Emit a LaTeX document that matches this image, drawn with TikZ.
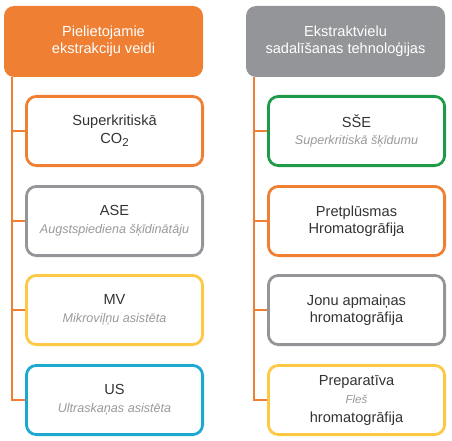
\documentclass[tikz,border=0pt]{standalone}
\usepackage{fontspec}
\setmainfont{Liberation Sans}
\definecolor{cor}{HTML}{EE7F33}
\definecolor{cgr}{HTML}{939598}
\definecolor{cgn}{HTML}{1F9A48}
\definecolor{cye}{HTML}{FDC843}
\definecolor{cbl}{HTML}{1BA9CF}
\definecolor{ctx}{HTML}{333333}
\definecolor{csub}{HTML}{9A9A9A}
\newcommand{\subt}[1]{{\fontsize{12.6}{15}\selectfont\itshape\color{csub}#1}}
\newcommand{\lowtwo}{\raisebox{-0.4ex}{\fontsize{11.5}{11.5}\selectfont 2}}
\tikzset{
  hdr/.style={rounded corners=10pt, minimum width=199pt, minimum height=71pt, inner sep=0pt,
    align=center, text=white, font=\fontsize{14.6}{17}\selectfont},
  itembox/.style={draw=#1, line width=2.8pt, rounded corners=10pt, fill=white,
    minimum width=176.2pt, minimum height=69.2pt, inner sep=0pt, align=center,
    text=ctx, font=\fontsize{14.6}{17.5}\selectfont},
  conn/.style={draw=cor, line width=2.8pt}
}
\begin{document}
\begin{tikzpicture}[x=1pt,y=-1pt]
\useasboundingbox (0,0) rectangle (452,441);
% headers
\node[hdr, fill=cor] (h1) at (103.5,41.5) {Pielietojamie\\ekstrakciju veidi};
\node[hdr, fill=cgr] (h2) at (345.5,41.5) {Ekstraktvielu\\sadalīšanas tehnoloģijas};
% left items
\node[itembox=cor] (l1) at (114.5,131) {Superkritiskā\\CO\lowtwo};
\node[itembox=cgr] (l2) at (114.5,221) {ASE\\\subt{Augstspiediena šķīdinātāju}};
\node[itembox=cye] (l3) at (114.5,310) {MV\\\subt{Mikroviļņu asistēta}};
\node[itembox=cbl] (l4) at (114.5,400) {US\\\subt{Ultraskaņas asistēta}};
% right items
\node[itembox=cgn] (r1) at (356.5,131) {SŠE\\\subt{Superkritiskā šķīdumu}};
\node[itembox=cor] (r2) at (356.5,221) {Pretplūsmas\\Hromatogrāfija};
\node[itembox=cgr] (r3) at (356.5,310) {Jonu apmaiņas\\hromatogrāfija};
\node[itembox=cye] (r4) at (356.5,400) {Preparatīva\\[1pt]{\fontsize{11.5}{13}\selectfont\itshape\color{csub}Fleš}\\[1pt]hromatogrāfija};
% connectors
\coordinate (lt) at (h1.south west -| 12,0);
\coordinate (rt) at (h2.south west -| 254,0);
\draw[conn] (lt) |- (l4.west);
\draw[conn] (lt |- l1.west) -- (l1.west);
\draw[conn] (lt |- l2.west) -- (l2.west);
\draw[conn] (lt |- l3.west) -- (l3.west);
\draw[conn] (rt) |- (r4.west);
\draw[conn] (rt |- r1.west) -- (r1.west);
\draw[conn] (rt |- r2.west) -- (r2.west);
\draw[conn] (rt |- r3.west) -- (r3.west);
\end{tikzpicture}
\end{document}
